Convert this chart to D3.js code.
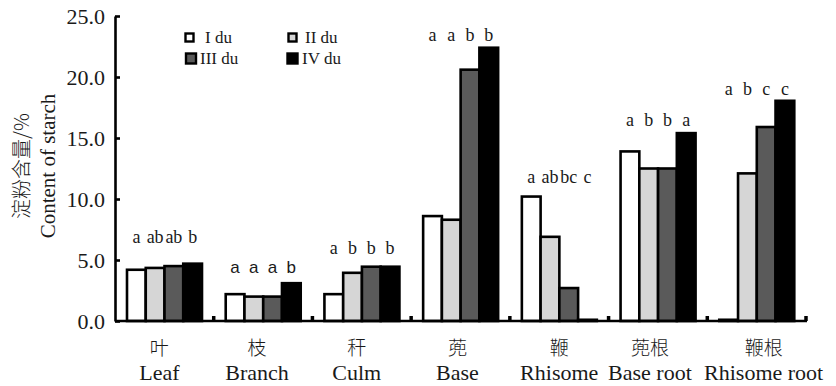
<!DOCTYPE html>
<html>
<head>
<meta charset="utf-8">
<script src="https://cdn.jsdelivr.net/npm/d3@7"></script>
<style>
  body { margin: 0; background: #fff; }
  svg { display: block; }
</style>
</head>
<body>
<svg id="chart" width="836" height="386"></svg>
<script>
// Tissue categories (Chinese / English)
const categoriesZh = ["叶", "枝", "秆", "蔸", "鞭", "蔸根", "鞭根"];
const categoriesEn = ["Leaf", "Branch", "Culm", "Base", "Rhisome", "Base root", "Rhisome root"];
const seriesNames = ["I du", "II du", "III du", "IV du"];

// Starch content (%) per age class
const seriesI   = [4.2, 2.2, 2.2, 8.6, 10.2, 13.9, 0.1];
const seriesII  = [4.35, 2.0, 3.95, 8.3, 6.9, 12.5, 12.1];
const seriesIII = [4.5, 2.0, 4.45, 20.6, 2.7, 12.5, 15.9];
const seriesIV  = [4.7, 3.1, 4.45, 22.4, 0.1, 15.4, 18.05];

// Significance letters above each bar
const lettersI   = ["a", "a", "a", "a", "a", "a", "a"];
const lettersII  = ["ab", "a", "b", "a", "ab", "b", "b"];
const lettersIII = ["ab", "a", "b", "b", "bc", "b", "c"];
const lettersIV  = ["b", "b", "b", "b", "c", "a", "c"];

const yTicks = [0, 5, 10, 15, 20, 25];

// ---- styling / layout ----
const fills = ["#ffffff", "#d6d6d6", "#5a5a5a", "#000000"];
const series = [seriesI, seriesII, seriesIII, seriesIV];
const letters = [lettersI, lettersII, lettersIII, lettersIV];
const letterGap = [21, 10, 13, 7, 14, 7, 6];       // px between tallest bar and letter baseline
const labelShift = [-5, -6, -5, -3, 0, -8, 7];     // small horizontal nudges of category labels

const svg = d3.select("#chart");
const plot = { left: 115, right: 806, top: 16, bottom: 321 };
const serif = "'Liberation Serif', 'Times New Roman', serif";
const sans = "'Liberation Sans', Arial, sans-serif";
const cjk = "'Noto Sans CJK SC', sans-serif";
const ink = "#1a1a1a";

const x = d3.scaleBand().domain(d3.range(categoriesEn.length)).range([plot.left, plot.right]).padding(0);
const xs = d3.scaleBand().domain(d3.range(4)).range([12, 87]).padding(0);
const y = d3.scaleLinear().domain([0, 25]).range([plot.bottom, plot.top]);

// Bars
const g = svg.append("g");
categoriesEn.forEach((c, i) => {
  const grp = g.append("g").attr("transform", `translate(${x(i)},0)`);
  series.forEach((s, k) => {
    const v = s[i];
    grp.append("rect")
      .attr("x", xs(k))
      .attr("y", y(v))
      .attr("width", xs.bandwidth())
      .attr("height", Math.max(0, y(0) - y(v)))
      .attr("fill", fills[k])
      .attr("stroke", "#000")
      .attr("stroke-width", 2.6);
  });
});

// Significance letters above each group
categoriesEn.forEach((c, i) => {
  const maxV = d3.max(series, s => s[i]);
  const baseY = y(maxV) - letterGap[i];
  const isSans = i === 1;
  letters.forEach((L, k) => {
    svg.append("text")
      .attr("x", x(i) + xs(k) + xs.bandwidth() / 2)
      .attr("y", baseY)
      .attr("text-anchor", "middle")
      .attr("font-family", isSans ? sans : serif)
      .attr("font-size", isSans ? 17 : 18)
      .attr("fill", ink)
      .text(L[i]);
  });
});

// Y axis with inward ticks
const yAxis = d3.axisLeft(y).tickValues(yTicks).tickSize(0).tickPadding(10).tickFormat(d3.format(".1f"));
const ya = svg.append("g").attr("transform", `translate(${plot.left},0)`).call(yAxis);
ya.select(".domain").attr("stroke", "#000").attr("stroke-width", 2.6);
ya.selectAll("text").attr("font-family", serif).attr("font-size", 22).attr("fill", ink);
ya.selectAll(".tick").append("line").attr("x1", 0).attr("x2", 5).attr("stroke", "#000").attr("stroke-width", 2.6);

// X axis line with category boundary ticks
const xa = svg.append("g");
xa.append("line").attr("x1", plot.left).attr("x2", plot.right + 1).attr("y1", plot.bottom).attr("y2", plot.bottom)
  .attr("stroke", "#000").attr("stroke-width", 2.6);
d3.range(1, categoriesEn.length + 1).forEach(i => {
  const bx = x(0) + i * x.bandwidth();
  xa.append("line").attr("x1", bx).attr("x2", bx).attr("y1", plot.bottom).attr("y2", plot.bottom - 5)
    .attr("stroke", "#000").attr("stroke-width", 3.5);
});

// Category labels
categoriesEn.forEach((c, i) => {
  const cx = x(i) + x.bandwidth() / 2 + labelShift[i];
  svg.append("text").attr("x", cx).attr("y", 355).attr("text-anchor", "middle")
    .attr("font-family", cjk).attr("font-size", 19).attr("font-weight", 300).attr("fill", ink)
    .text(categoriesZh[i]);
  svg.append("text").attr("x", cx).attr("y", 380).attr("text-anchor", "middle")
    .attr("font-family", serif).attr("font-size", 22).attr("fill", ink)
    .text(c);
});

// Y axis title (two lines)
const yt = svg.append("g").attr("transform", "translate(0,166) rotate(-90)");
yt.append("text").attr("x", 0).attr("y", 29).attr("text-anchor", "middle")
  .attr("font-family", cjk).attr("font-size", 20).attr("font-weight", 300).attr("fill", ink)
  .text("淀粉含量/%");
yt.append("text").attr("x", 0).attr("y", 55).attr("text-anchor", "middle")
  .attr("font-family", serif).attr("font-size", 21).attr("fill", ink)
  .text("Content of starch");

// Legend
const legendIcon = [[189.5, 37.5, 8], [292.5, 37.5, 8], [191, 58.5, 10], [292.5, 58.5, 10]];
const legendText = [[205, 43], [305, 43], [200, 64], [302, 64]];
seriesNames.forEach((n, k) => {
  const [lx, ly, s] = legendIcon[k];
  svg.append("rect").attr("x", lx - s / 2).attr("y", ly - s / 2).attr("width", s).attr("height", s)
    .attr("fill", fills[k]).attr("stroke", "#000").attr("stroke-width", 2.4);
  svg.append("text").attr("x", legendText[k][0]).attr("y", legendText[k][1])
    .attr("font-family", serif).attr("font-size", 17).attr("fill", ink)
    .text(n);
});
</script>
</body>
</html>
